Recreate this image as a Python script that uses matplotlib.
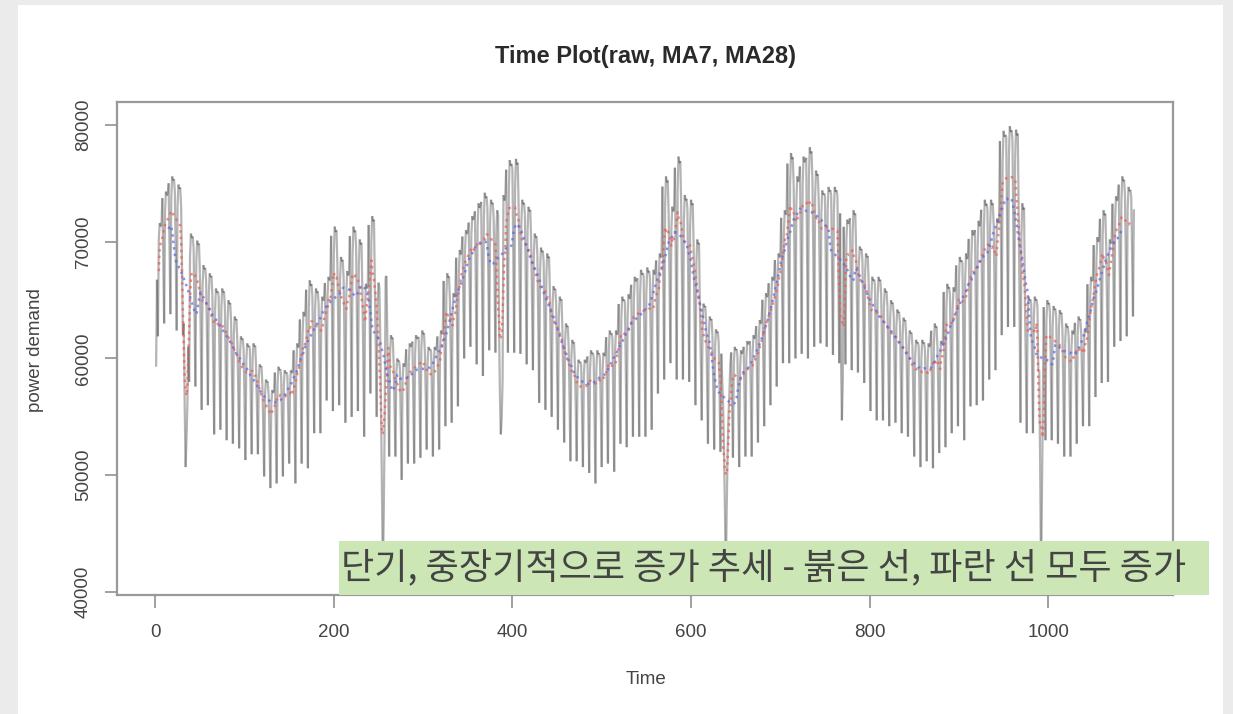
import numpy as np
import matplotlib
matplotlib.use("Agg")
import matplotlib.pyplot as plt
from matplotlib.patches import Rectangle
from matplotlib.collections import LineCollection

# ---------------- data ----------------
n_days = 1096
# weekly weekday-high and weekend-low envelopes of the raw series (157 weeks)
week_high = [
    71600, 74300, 75600, 74900, 73600, 70700, 70100, 68000, 67300, 66000,
    66000, 65000, 63600, 61900, 61300, 61300, 59500, 58200, 57300, 59300,
    59000, 59000, 61300, 64000, 66700, 66000, 65300, 67000, 71300, 68700,
    67500, 71300, 70200, 66400, 72200, 66500, 67300, 62000, 60000, 59600,
    61300, 62000, 62400, 61000, 61000, 62400, 67300, 65600, 69300, 71000,
    72200, 73300, 74200, 73600, 72700, 74000, 77000, 77100, 73600, 73000,
    70700, 69500, 69000, 66200, 65300, 63000, 61600, 59900, 59900, 60700,
    60700, 60500, 62400, 62400, 65300, 65500, 67000, 67600, 67800, 67600,
    69000, 75600, 73000, 77300, 74000, 73600, 70200, 64700, 63600, 62500,
    61900, 59600, 61000, 60700, 61500, 62000, 63300, 65600, 67000, 69000,
    72700, 77600, 75600, 77300, 78100, 76100, 74400, 74700, 74700, 74700,
    71900, 72700, 69600, 69000, 67000, 67000, 66000, 65000, 64200, 63500,
    62400, 61600, 61600, 61300, 63000, 61500, 66400, 66100, 68700, 69000,
    71000, 71800, 73600, 73600, 72000, 79500, 79900, 79600, 73300, 65300,
    65300, 65000, 65000, 64500, 64150, 63000, 62400, 63600, 62500, 67000,
    70400, 72700, 70200, 73900, 75600, 74700, 74400]
week_low = [
    61900, 63000, 63800, 62400, 62000, 58000, 57600, 55600, 56000, 53500,
    53900, 53000, 52700, 52300, 51300, 51800, 51800, 49900, 48900, 49300,
    49900, 51000, 49300, 51000, 50600, 53600, 53600, 56400, 55500, 56000,
    54500, 55000, 55500, 53300, 57000, 55000, 56000, 51600, 51600, 49600,
    51000, 51000, 51500, 52200, 51600, 52200, 54200, 54500, 55900, 60000,
    61000, 59500, 58500, 60700, 60500, 58000, 60500, 60500, 60400, 59500,
    59000, 56200, 55600, 55000, 53900, 52800, 51200, 51200, 50700, 50200,
    49300, 50700, 51000, 50300, 52700, 52400, 53300, 53300, 53300, 53900,
    57000, 58200, 59600, 58200, 58200, 58000, 56000, 54700, 52700, 52200,
    52000, 51000, 51500, 50700, 51600, 51600, 52800, 54200, 56000, 57600,
    59600, 59600, 60000, 60400, 60000, 61000, 61300, 61000, 60300, 59600,
    59500, 59000, 58800, 57900, 55500, 54700, 54700, 54200, 54500, 53600,
    53300, 51600, 50700, 51200, 50600, 51900, 52400, 53600, 54200, 53000,
    55900, 56000, 56400, 58200, 59000, 62000, 62700, 62700, 54500, 53600,
    53600, 53000, 53000, 53000, 52700, 51600, 51600, 52700, 54200, 54200,
    56700, 57900, 58000, 61000, 61500, 61900, 63600]
# position of each day inside its week between the low (0) and the high (1)
day_shape = [0.95, 0.5, 0.0, 0.85, 1.0, 0.97, 0.98]
# holidays
holiday_days = [1,
                32, 33, 34, 35, 36, 37,
                252, 253, 254, 255, 256, 257,
                385, 386, 387, 388, 389,
                635, 636, 637, 638, 639, 640, 641, 642, 643,
                768, 769, 770,
                990, 991, 992, 993, 994]
holiday_values = [59300,
                  63000, 56000, 50700, 53000, 56000, 61000,
                  62000, 55000, 48000, 41500, 47000, 55000,
                  63000, 57000, 53500, 55000, 58000,
                  58000, 56000, 52000, 47000, 41300, 47000, 52000, 55000, 57000,
                  60000, 54700, 58000,
                  59000, 51000, 41300, 48000, 56000]

x_ticks = [0, 200, 400, 600, 800, 1000]
y_ticks = [40000, 50000, 60000, 70000, 80000]
title = "Time Plot(raw, MA7, MA28)"
x_label = "Time"
y_label = "power demand"
note = "단기, 중장기적으로 증가 추세 - 붉은 선, 파란 선 모두 증가"

# ---------------- series ----------------
t = np.arange(1, n_days + 1)
raw = np.empty(n_days)
for i in range(n_days):
    w, d = divmod(i, 7)
    raw[i] = week_low[w] + day_shape[d] * (week_high[w] - week_low[w])
for d, v in zip(holiday_days, holiday_values):
    raw[d - 1] = v


def centered_ma(x, order):
    if order % 2 == 1:
        w = np.ones(order) / order
    else:
        w = np.r_[0.5, np.ones(order - 1), 0.5] / order
    k = len(w) // 2
    out = np.full(len(x), np.nan)
    out[k:len(x) - k] = np.convolve(x, w, mode="valid")
    return out


ma7 = centered_ma(raw, 7)
ma28 = centered_ma(raw, 28)

# ---------------- figure ----------------
W, H = 1233, 714
fig = plt.figure(figsize=(W / 100, H / 100), dpi=100)
fig.patch.set_facecolor("#ebebeb")
fig.patches.append(Rectangle((18 / W, 0), (1223 - 18) / W, (714 - 5) / H,
                             transform=fig.transFigure, facecolor="white",
                             edgecolor="none", zorder=-5))

L, R, T, B = 117, 1173, 102, 595
ax = fig.add_axes([L / W, 1 - B / H, (R - L) / W, (B - T) / H])
ax.set_zorder(1)
ax.set_facecolor("white")

pts = np.column_stack([t, raw])
segs = np.stack([pts[:-1], pts[1:]], axis=1)
ax.add_collection(LineCollection(segs, colors="#5a5a5a", linewidths=1.6,
                                 alpha=0.45, zorder=2))
ax.plot(t, ma7, color="#ee5a50", lw=1.8, alpha=0.7,
        linestyle=(0, (1, 1.6)), zorder=3)
ax.plot(t, ma28, color="#5566ee", lw=1.8, alpha=0.7,
        linestyle=(0, (1, 1.6)), zorder=3)

ax.set_xlim(-42.8, 1139.8)
ax.set_ylim(39743, 81970)
txt = "#444444"
font = "Liberation Sans"
ax.set_xticks(x_ticks)
ax.set_yticks(y_ticks)
ax.set_xticklabels([str(v) for v in x_ticks], fontsize=13.5, color=txt, family=font)
ax.set_yticklabels([str(v) for v in y_ticks], fontsize=13.5, color=txt, family=font,
                   rotation=90, va="center")
ax.tick_params(axis="both", direction="out", length=9, width=1.3, color="#999999")
ax.tick_params(axis="x", pad=12)
ax.tick_params(axis="y", pad=9)
for s in ax.spines.values():
    s.set_color("#999999")
    s.set_linewidth(1.6)

fig.text(646 / W, 1 - 57 / H, title, ha="center", va="center",
         fontsize=17, fontweight="bold", color="#2a2a2a", family=font)
fig.text(646 / W, 1 - 680 / H, x_label, ha="center", va="center",
         fontsize=13.5, color=txt, family=font)
fig.text(35 / W, 1 - 350 / H, y_label, ha="center", va="center", rotation=90,
         fontsize=13.5, color=txt, family=font)

# annotation box (drawn above the axes)
bx0, bx1, by0, by1 = 339, 1209, 541, 595
fig.patches.append(Rectangle((bx0 / W, 1 - by1 / H), (bx1 - bx0) / W, (by1 - by0) / H,
                             transform=fig.transFigure, facecolor="#cce7b5",
                             edgecolor="none", zorder=5))
fig.text(341 / W, 1 - 568 / H, note, ha="left", va="center", fontsize=26,
         color="#444444", family=["Noto Sans CJK KR", "DejaVu Sans"], zorder=6)

fig.savefig("out.png", dpi=100, facecolor=fig.get_facecolor())
